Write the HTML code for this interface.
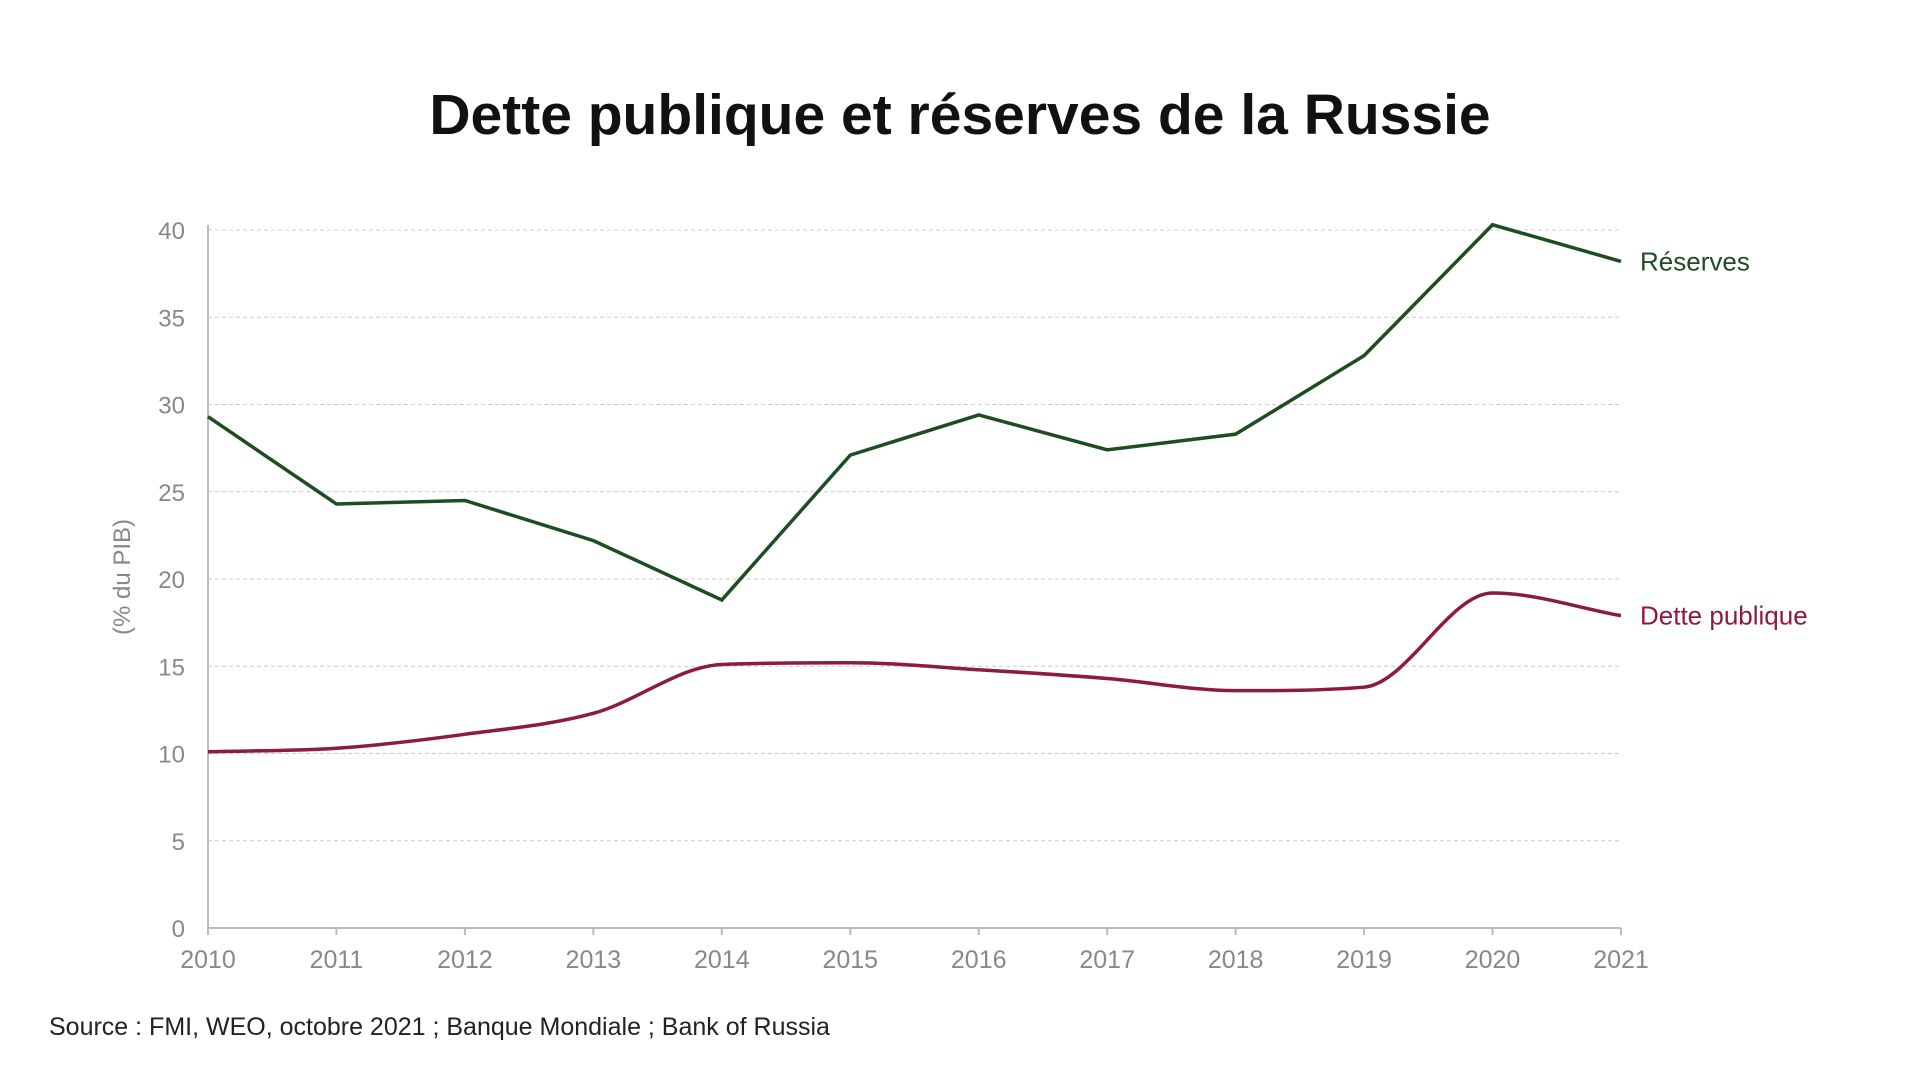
<!DOCTYPE html>
<html><head><meta charset="utf-8"><style>
body{margin:0;background:#fff;width:1920px;height:1080px;overflow:hidden;font-family:"Liberation Sans",sans-serif}
</style></head><body>
<svg width="1920" height="1080">
<text x="960" y="134" text-anchor="middle" font-size="57" font-weight="bold" fill="#111">Dette publique et réserves de la Russie</text>
<g id="grid"></g><g id="axes"></g><g id="series"></g>
<text transform="translate(130,577) rotate(-90)" text-anchor="middle" font-size="24" fill="#888">(% du PIB)</text>
<text x="49" y="1035" font-size="25" fill="#222">Source : FMI, WEO, octobre 2021 ; Banque Mondiale ; Bank of Russia</text>
</svg>
<script>
const years=[2010,2011,2012,2013,2014,2015,2016,2017,2018,2019,2020,2021];
const reserves=[29.3,24.3,24.5,22.2,18.8,27.1,29.4,27.4,28.3,32.8,40.3,38.2];
const debt=[10.1,10.3,11.1,12.3,15.1,15.2,14.8,14.3,13.6,13.8,19.2,17.9];
const yTicks=[0,5,10,15,20,25,30,35,40];
const NS="http://www.w3.org/2000/svg";
const X=v=>208+(v-2010)*(1621-208)/11;
const Y=v=>928-v*(928-230)/40;
function mk(t,a,p){const e=document.createElementNS(NS,t);for(const k in a)e.setAttribute(k,a[k]);p.appendChild(e);return e;}
const g=document.getElementById('grid'),ax=document.getElementById('axes'),s=document.getElementById('series');
yTicks.forEach(v=>{
 if(v>0){const l=mk('line',{x1:208,x2:1621,y1:Y(v),y2:Y(v),stroke:'#ccc','stroke-dasharray':'4,3'},g);
 
 }
 const t=mk('text',{x:185,y:Y(v)+9,'text-anchor':'end','font-size':24,fill:'#888'},ax);t.textContent=v;
 
 
});
const yl=mk('line',{x1:208,x2:208,y1:225,y2:928,stroke:'#bbb','stroke-width':2},ax);


const xl=mk('line',{x1:208,x2:1621,y1:928,y2:928,stroke:'#bbb','stroke-width':2},ax);


years.forEach(y=>{
 mk('line',{x1:X(y),x2:X(y),y1:928,y2:935,stroke:'#bbb','stroke-width':2},ax);
 const t=mk('text',{x:X(y),y:968,'text-anchor':'middle','font-size':25,fill:'#888'},ax);t.textContent=y;
 
 
});
const rp=years.map((y,i)=>(i?'L':'M')+X(y)+','+Y(reserves[i])).join('');
const r=mk('path',{d:rp,fill:'none',stroke:'#1e4d22','stroke-width':3.5},s);


// monotone cubic debt line
const px=years.map(X),py=debt.map(Y),n=px.length;
const dk=[],m=[];
for(let i=0;i<n-1;i++)dk.push((py[i+1]-py[i])/(px[i+1]-px[i]));
m[0]=dk[0];m[n-1]=dk[n-2];
for(let i=1;i<n-1;i++){m[i]=(dk[i-1]*dk[i]<=0)?0:(dk[i-1]+dk[i])/2;}
for(let i=0;i<n-1;i++){if(dk[i]===0){m[i]=m[i+1]=0;continue;}const a=m[i]/dk[i],b=m[i+1]/dk[i],h=a*a+b*b;if(h>9){const t=3/Math.sqrt(h);m[i]=t*a*dk[i];m[i+1]=t*b*dk[i];}}
let d='M'+px[0]+','+py[0];
for(let i=0;i<n-1;i++){const h=(px[i+1]-px[i])/3;d+='C'+(px[i]+h)+','+(py[i]+m[i]*h)+' '+(px[i+1]-h)+','+(py[i+1]-m[i+1]*h)+' '+px[i+1]+','+py[i+1];}
const dl=mk('path',{d:d,fill:'none',stroke:'#8c1a42','stroke-width':3.5},s);


const l1=mk('text',{x:1640,y:Y(reserves[11])+9,'font-size':26,fill:'#1e4d22'},s);l1.textContent='Réserves';


const l2=mk('text',{x:1640,y:Y(debt[11])+9,'font-size':26,fill:'#8c1a42'},s);l2.textContent='Dette publique';


</script>
</body></html>
